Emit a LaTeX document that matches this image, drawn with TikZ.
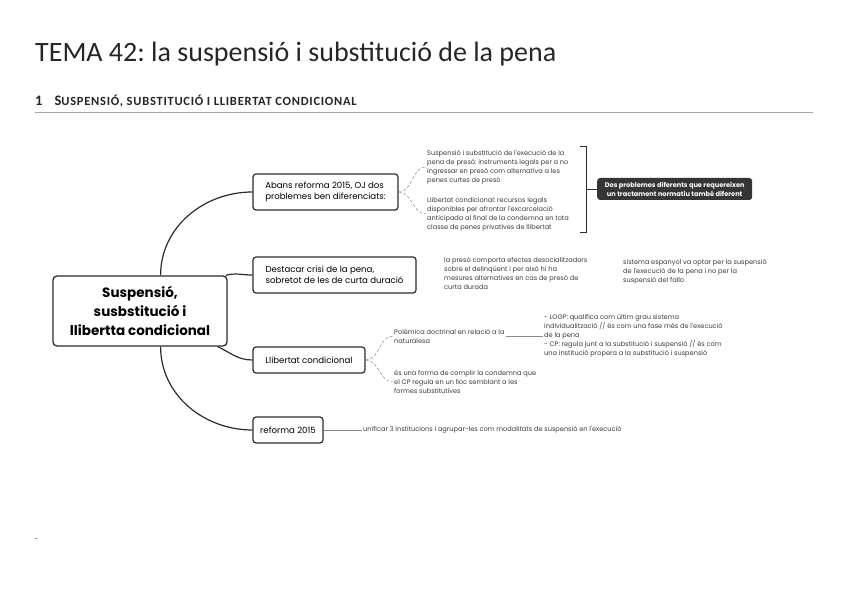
\documentclass[tikz,border=0pt]{standalone}
\usepackage{fontspec}
\setmainfont{Carlito}
\newfontfamily\mapfont{Poppins}
\usetikzlibrary{positioning,calc}
\definecolor{mapline}{HTML}{2B2B2B}
\definecolor{subline}{HTML}{8A8A8A}
\definecolor{subtext}{HTML}{3C3C3C}
\definecolor{summaryfill}{HTML}{353535}
\definecolor{titlegray}{HTML}{262626}
\frenchspacing

\begin{document}
\begin{tikzpicture}[x=1pt,y=1pt,
        central/.style={
                draw=mapline,
                line width=1.3pt,
                rounded corners=4pt,
                align=center,
                minimum width=174pt,
                minimum height=70pt,
                font=\mapfont\bfseries\fontsize{13.5}{19}\selectfont,
        },
        topic/.style={
                draw=mapline,
                line width=1.2pt,
                rounded corners=3pt,
                align=left,
                inner xsep=7pt,
                font=\mapfont\fontsize{8.6}{11.5}\selectfont,
        },
        subtopic/.style={
                align=left,
                inner sep=1pt,
                text=subtext,
                font=\mapfont\fontsize{6.6}{9}\selectfont,
        },
        summary/.style={
                fill=summaryfill,
                rounded corners=3pt,
                align=center,
                text=white,
                minimum width=155pt,
                minimum height=22pt,
                inner sep=2pt,
                font=\mapfont\bfseries\fontsize{6.6}{9}\selectfont,
        },
        branch/.style={mapline, line width=1.2pt},
        twig/.style={subline, line width=0.5pt, densely dashed},
        leaf/.style={subline, line width=0.5pt},
    ]
    \useasboundingbox (0,0) rectangle (848,599);

    % title and section heading
    \node[anchor=base west, inner sep=0pt, text=titlegray, font=\fontsize{28}{30}\selectfont] (title) at (35,537) {TEMA 42: la suspensió i substitució de la pena};
    \node[anchor=base west, inner sep=0pt, text=titlegray, font=\bfseries\fontsize{14.5}{16}\selectfont] (heading) at (35,493) {1\hspace{12pt}S{\fontsize{12.5}{13}\selectfont\addfontfeatures{LetterSpace=6}USPENSIÓ, SUBSTITUCIÓ I LLIBERTAT CONDICIONAL}};
    \draw[gray!70, line width=0.8pt] (35,487) -- (813,487);

    % mind map
    \node[central] (cent) at (140,288) {Suspensió,\\susbstitució i\\llibertta condicional};

    \node[topic, minimum width=145pt, minimum height=36pt] (abans) at (325.5,407) {Abans reforma 2015, OJ dos\\problemes ben diferenciats:};
    \node[topic, minimum width=163pt, minimum height=36pt] (crisi) at (334.5,324) {Destacar crisi de la pena,\\sobretot de les de curta duració};
    \node[topic, minimum width=112pt, minimum height=26pt] (llib) at (309,239) {Llibertat condicional};
    \node[topic, minimum width=70pt, minimum height=26pt] (reforma) at (288,169) {reforma 2015};

    \draw[branch] (cent.60) to[out=90, in=180] (abans.west);
    \draw[branch] ([xshift=-2pt]cent.north east) to[out=15, in=180] (crisi.west);
    \draw[branch] ([xshift=-10pt]cent.south east) to[out=-25, in=180] (llib.west);
    \draw[branch] (cent.-60) to[out=-90, in=180] (reforma.west);

    % two problems
    \node[subtopic, anchor=west] (susp) at (426,432) {Suspensió i substitució de l'execució de la\\pena de presó: instruments legals per a no\\ingressar en presó com alternativa a les\\penes curtes de presó};
    \node[subtopic, anchor=west] (condic) at (426,385) {Llibertat condicional: recursos legals\\disponibles per afrontar l'excarcelació\\anticipada al final de la condemna en tota\\classe de penes privatives de llibertat};
    \draw[twig] (abans.east) to[out=0, in=180] (susp.west);
    \draw[twig] (abans.east) to[out=0, in=180] (condic.west);

    \coordinate (bracetop) at (586,453);
    \coordinate (bracebot) at (586,367);
    \coordinate (bracemid) at (586,410);
    \draw[mapline, line width=0.9pt] ([xshift=-6pt]bracetop) -- (bracetop) -- (bracebot) -- ([xshift=-6pt]bracebot);
    \node[summary, anchor=west] (dos) at (597,410) {Dos problemes diferents que requereixen\\un tractament normatiu també diferent};
    \draw[mapline, line width=0.9pt] (bracemid) -- (dos.west);

    % crisis of the sentence
    \node[subtopic, anchor=west] (preso) at (443,326) {la presó comporta efectes desocialitzadors\\sobre el delinqüent i per això hi ha\\mesures alternatives en cas de presó de\\curta durada};
    \node[subtopic, anchor=west] (sistema) at (622,327) {sistema espanyol va optar per la suspensió\\de l'execució de la pena i no per la\\suspensió del fallo};

    % parole
    \node[subtopic, anchor=west] (polem) at (393,263) {Polèmica doctrinal en relació a la\\naturalesa};
    \node[subtopic, anchor=west] (forma) at (393,217) {és una forma de complir la condemna que\\el CP regula en un lloc semblant a les\\formes substitutives};
    \draw[twig] (llib.east) to[out=0, in=180] (polem.west);
    \draw[twig] (llib.east) to[out=0, in=180] (forma.west);

    \node[subtopic, anchor=west] (logp) at (543,263) {- LOGP: qualifica com últim grau sistema\\individualització // és com una fase més de l'execució\\de la pena\\- CP: regula junt a la substitució i suspensió // és com\\una institució propera a la substitució i suspensió};
    \draw[leaf] (polem.east) -- (logp.west);

    % reform
    \node[subtopic, anchor=west] (unif) at (362,169) {unificar 3 institucions i agrupar-les com modalitats de suspensió en l'execució};
    \draw[leaf] (reforma.east) -- (unif.west);

    \node[anchor=base west, inner sep=0pt, font=\fontsize{9}{10}\selectfont] (punt) at (35,59) {.};
\end{tikzpicture}
\end{document}
